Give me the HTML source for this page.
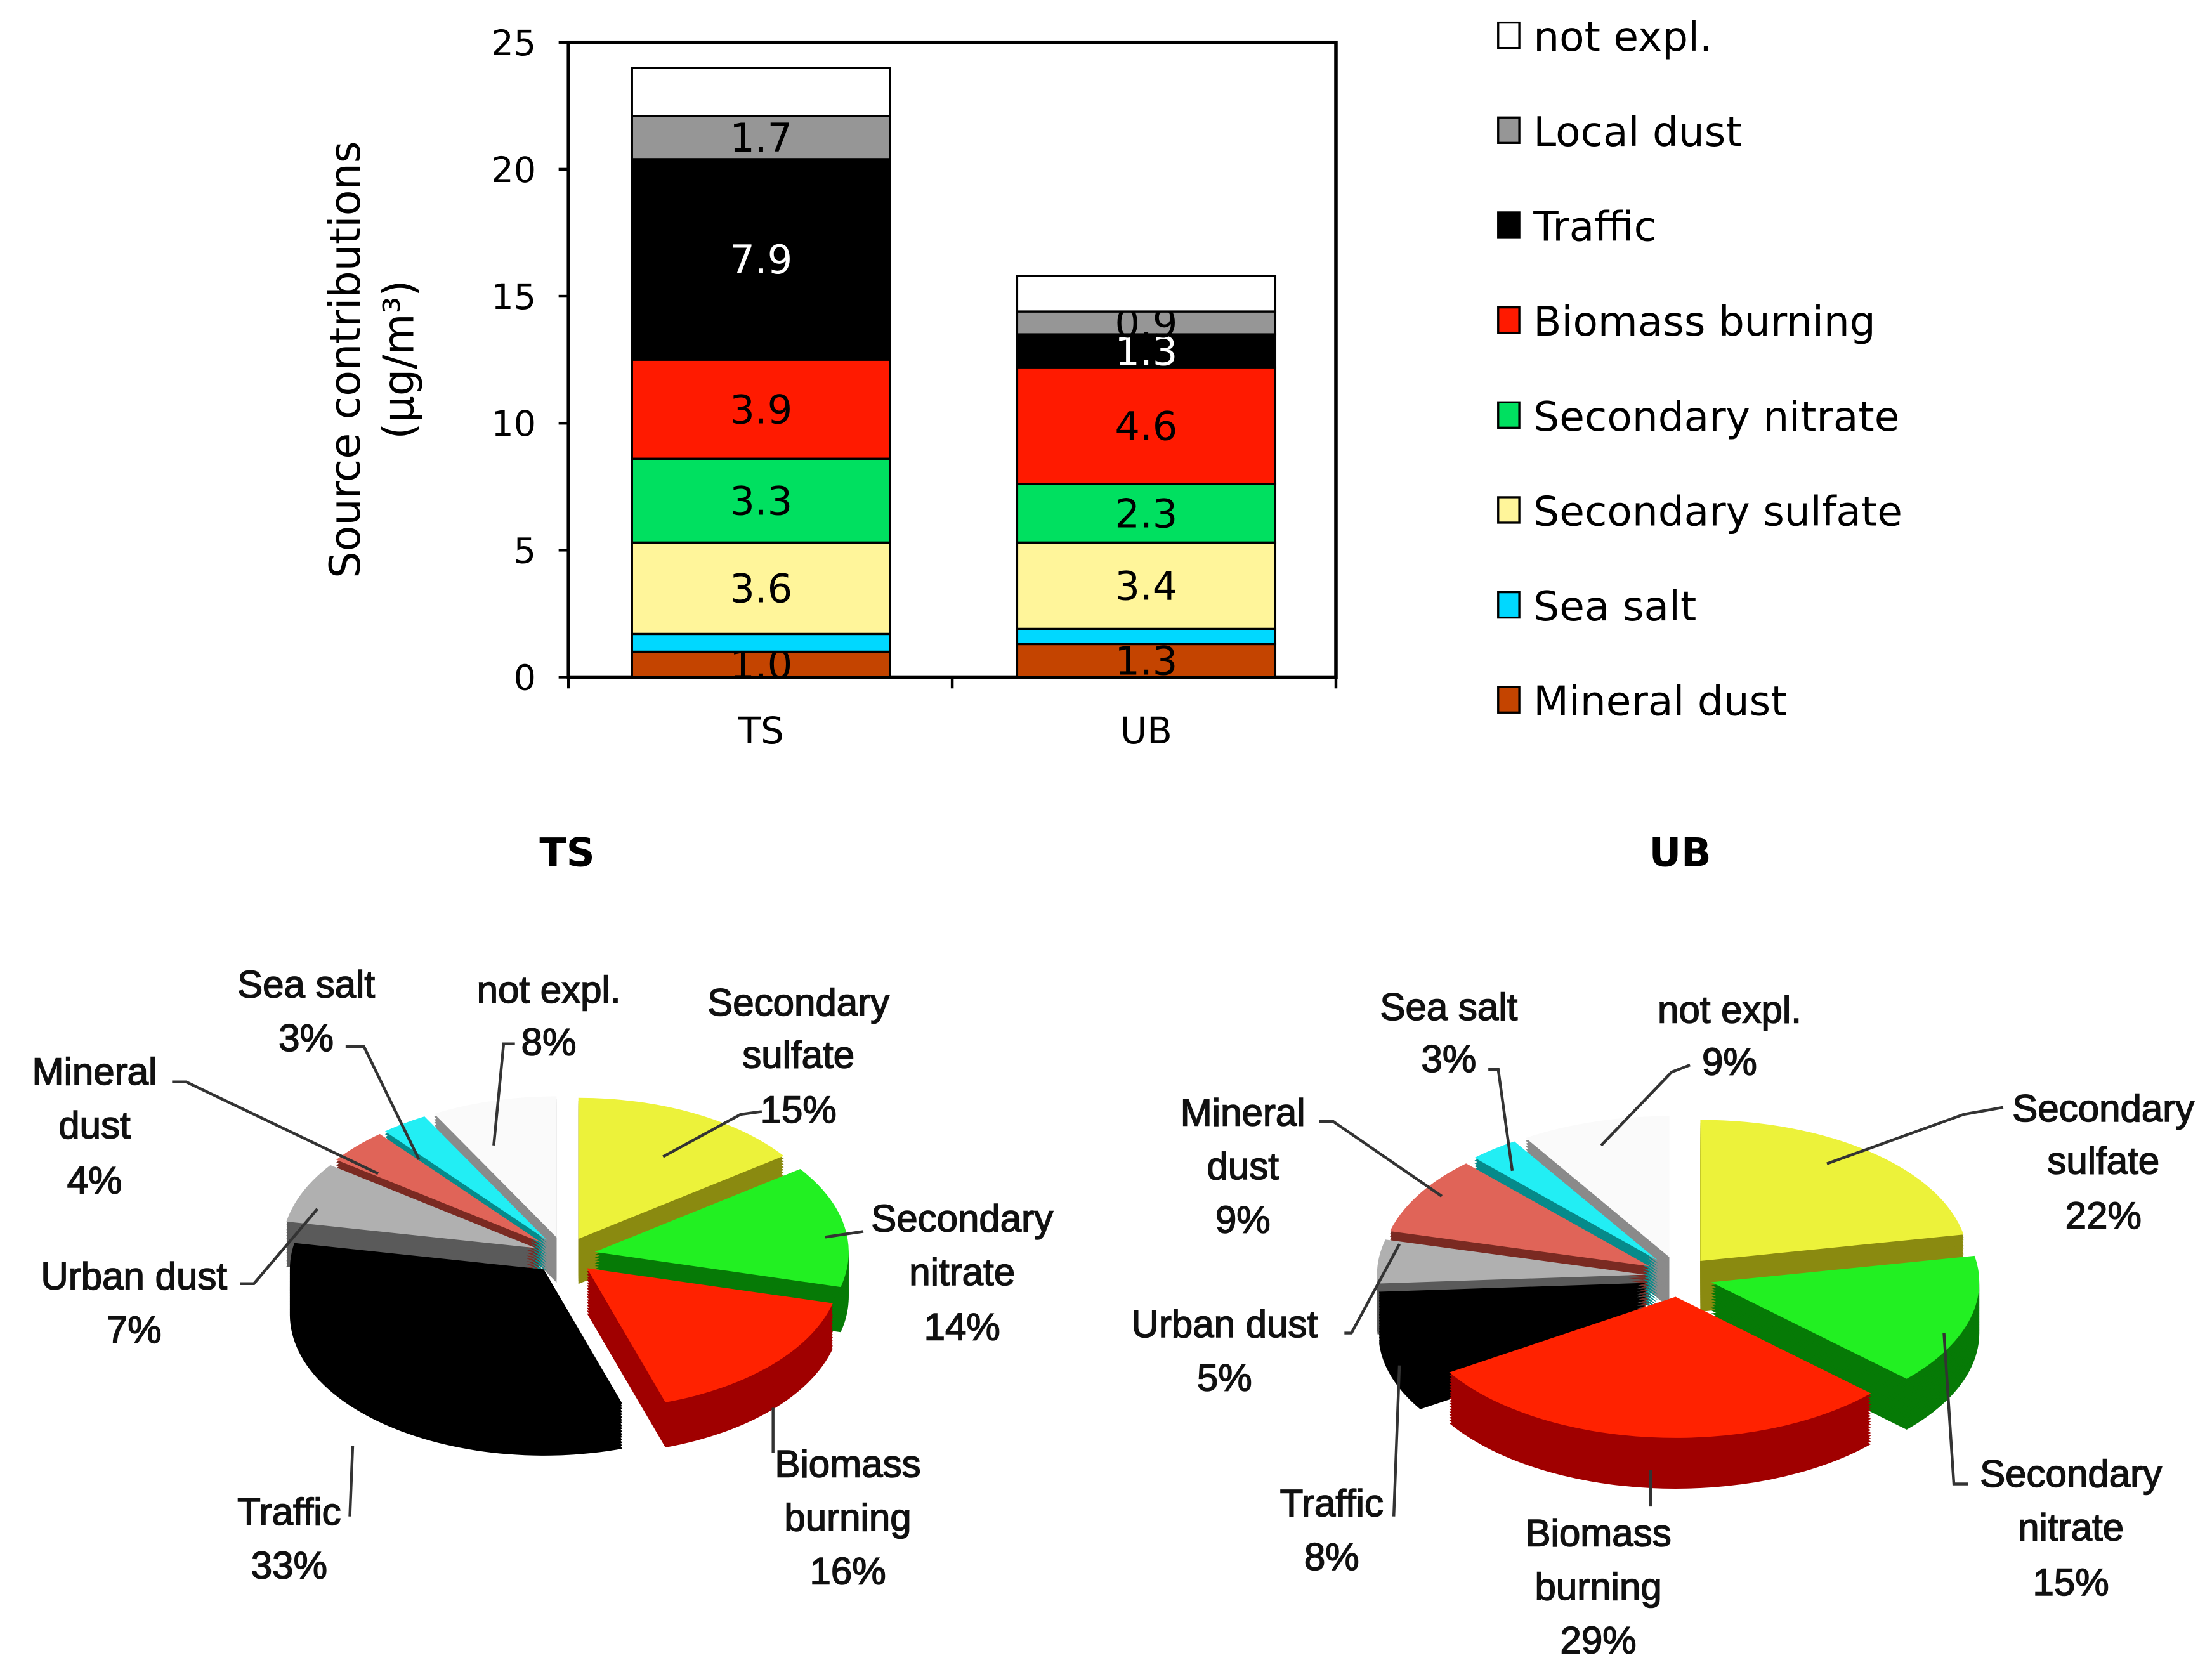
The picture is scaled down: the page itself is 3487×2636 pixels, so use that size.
<!DOCTYPE html>
<html><head><meta charset="utf-8"><style>
html,body{margin:0;padding:0;background:#fff;}
svg{display:block;}
.v{font-family:"DejaVu Sans","Liberation Sans",sans-serif;}
.c{font-family:"Liberation Sans",sans-serif;font-size:27px;fill:#111;stroke:#111;stroke-width:0.7;}
</style></head><body>
<svg id="svg" width="3487" height="2636" viewBox="0 0 1568 1185.3" xmlns="http://www.w3.org/2000/svg">
<rect x="0" y="0" width="1568" height="1186" fill="#fff"/>
<g id="bars"></g>
<g id="legend"></g>
<g id="pies"></g>
<g id="labels"></g>
</svg>
<script>
// ---- bar chart data ----
const categories = ["TS","UB"];
const sources = ["Mineral dust","Sea salt","Secondary sulfate","Secondary nitrate","Biomass burning","Traffic","Local dust","not expl."];
const tsValues = [1.0,0.7,3.6,3.3,3.9,7.9,1.7,1.9];
const ubValues = [1.3,0.6,3.4,2.3,4.6,1.3,0.9,1.4];
const tsLabels = ["1.0","","3.6","3.3","3.9","7.9","1.7",""];
const ubLabels = ["1.3","","3.4","2.3","4.6","1.3","0.9",""];
const yTicks = [0,5,10,15,20,25];
// ---- pie data ----
const pieSources = ["Secondary sulfate","Secondary nitrate","Biomass burning","Traffic","Urban dust","Mineral dust","Sea salt","not expl."];
const tsShares = [15,14,16,33,7,4,3,8];
const ubShares = [22,15,29,8,5,9,3,9];

const NS="http://www.w3.org/2000/svg";
function mk(tag,attrs,parent,text){const e=document.createElementNS(NS,tag);for(const k in attrs)e.setAttribute(k,attrs[k]);if(text!==undefined)e.textContent=text;parent.appendChild(e);return e;}

const barColors=["#c44400","#00d8ff","#fff59a","#00e060","#ff1a00","#000000","#969696","#ffffff"];
const plot={x0:403,x1:947,y0:480,y1:30};
function yScale(v){return plot.y0-(v/25)*(plot.y0-plot.y1);}
const barX=[448,721], barW=183;
const bars=document.getElementById('bars');

let frame=mk('rect',{x:plot.x0,y:plot.y1,width:plot.x1-plot.x0,height:plot.y0-plot.y1,fill:'none',stroke:'#000','stroke-width':2.5},bars);


yTicks.forEach(t=>{
  const y=yScale(t);
  let l=mk('line',{x1:plot.x0-7,x2:plot.x0,y1:y,y2:y,stroke:'#000','stroke-width':2},bars);
  
  
  let tx=mk('text',{x:380,y:y+9,'text-anchor':'end','font-size':25,class:'v'},bars,String(t));
  
  
});
[plot.x0,(plot.x0+plot.x1)/2,plot.x1].forEach(x=>{
  let l=mk('line',{x1:x,x2:x,y1:plot.y0,y2:plot.y0+8,stroke:'#000','stroke-width':2},bars);
  
  
});
const yt=mk('text',{transform:'translate(255,255) rotate(-90)','text-anchor':'middle','font-size':30,class:'v'},bars,'Source contributions');


const yt2=mk('text',{transform:'translate(293,255) rotate(-90)','text-anchor':'middle','font-size':30,class:'v'},bars,'(µg/m³)');



[tsValues,ubValues].forEach((vals,ci)=>{
  let cum=0;
  const labs=ci===0?tsLabels:ubLabels;
  vals.forEach((v,i)=>{
    const yTop=yScale(cum+v), yBot=yScale(cum);
    let r=mk('rect',{x:barX[ci],y:yTop,width:barW,height:yBot-yTop,fill:barColors[i],stroke:'#000','stroke-width':1.5},bars);
    
    
    if(labs[i]){
      let t=mk('text',{x:barX[ci]+barW/2,y:(yTop+yBot)/2+10,'text-anchor':'middle','font-size':28,class:'v',fill:i===5?'#fff':'#000'},bars,labs[i]);
      
      
    }
    cum+=v;
  });
  let xl=mk('text',{x:barX[ci]+barW/2,y:527,'text-anchor':'middle','font-size':26,class:'v'},bars,categories[ci]);
  
  
});

const legend=document.getElementById('legend');
for(let k=0;k<sources.length;k++){
  const i=sources.length-1-k;
  const y=25+k*67.3;
  let g=mk('g',{},legend);
  
  
  mk('rect',{x:1062,y:y-9,width:15,height:18,fill:barColors[i],stroke:'#000','stroke-width':1.5},g);
  mk('text',{x:1087,y:y+11,'font-size':29,class:'v'},g,sources[i]);
}

const pieTop=["#ecf23a","#22f022","#ff2200","#000000","#b0b0b0","#e06458","#22eef4","#fafafa"];
const pieSide=["#8a8a10","#067a06","#a00000","#000000","#5a5a5a","#7a2a22","#068a8a","#8a8a8a"];
const pies=document.getElementById('pies');
function drawPie(shares,cx,cy,rx,ry,depth,expl,name){
  const g=mk('g',{},pies);
  
  
  const total=shares.reduce((a,b)=>a+b,0);
  let a=0; const sl=[];
  shares.forEach((s,i)=>{const a0=a/total*2*Math.PI;a+=s;const a1=a/total*2*Math.PI;sl.push({i,a0,a1,m:(a0+a1)/2});});
  sl.sort((p,q)=>Math.cos(q.m)-Math.cos(p.m));
  sl.forEach(s=>{
    const ox=cx+expl*Math.sin(s.m), oy=cy-expl*0.6*Math.cos(s.m);
    const P=(t,dy)=>[ox+rx*Math.sin(t),oy-ry*Math.cos(t)+dy];
    const path=dy=>{const p0=P(s.a0,dy),p1=P(s.a1,dy);const large=(s.a1-s.a0)>Math.PI?1:0;
      return `M${ox},${oy+dy}L${p0[0]},${p0[1]}A${rx},${ry} 0 ${large} 1 ${p1[0]},${p1[1]}Z`;};
    const sg=mk('g',{},g);
    
    
    for(let d=depth;d>0;d-=2){mk('path',{d:path(d),fill:pieSide[s.i]},sg);}
    mk('path',{d:path(0),fill:pieTop[s.i]},sg);
  });
}
drawPie(tsShares,400,890,180,100,32,22,'pie-ts');
drawPie(ubShares,1190,905,190,100,36,24,'pie-ub');

const lab=document.getElementById('labels');
[["TS",402],["UB",1191]].forEach(([t,x])=>{
  let e=mk('text',{x:x,y:614,'text-anchor':'middle','font-size':28,'font-weight':'bold',class:'v'},lab,t);
  
  
});
const texts=[
 [217,697,"Sea salt"],[217,735,"3%"],[389,701,"not expl."],[389,738,"8%"],
 [566,710,"Secondary"],[566,747,"sulfate"],[566,786,"15%"],
 [67,759,"Mineral"],[67,797,"dust"],[67,836,"4%"],
 [682,863,"Secondary"],[682,901,"nitrate"],[682,940,"14%"],
 [95,904,"Urban dust"],[95,942,"7%"],[205,1071,"Traffic"],[205,1109,"33%"],
 [601,1037,"Biomass"],[601,1075,"burning"],[601,1113,"16%"],
 [1027,713,"Sea salt"],[1027,750,"3%"],[1226,715,"not expl."],[1226,752,"9%"],
 [1491,785,"Secondary"],[1491,822,"sulfate"],[1491,861,"22%"],
 [881,788,"Mineral"],[881,826,"dust"],[881,864,"9%"],
 [868,938,"Urban dust"],[868,976,"5%"],[944,1065,"Traffic"],[944,1103,"8%"],
 [1133,1086,"Biomass"],[1133,1124,"burning"],[1133,1162,"29%"],
 [1468,1044,"Secondary"],[1468,1082,"nitrate"],[1468,1121,"15%"]];
texts.forEach(([x,y,t])=>{
  let e=mk('text',{x:x,y:y+10,'text-anchor':'middle',class:'c'},lab,t);
  
  
});
const leaders=[
 "M245,742 L258,742 L297,822","M365,740 L357,740 L350,812","M540,788 L525,790 L470,820",
 "M122,767 L132,767 L268,832","M612,873 L585,877","M170,910 L180,910 L225,857",
 "M248,1075 L250,1025","M548,1030 L548,998",
 "M1055,758 L1062,758 L1072,830","M1198,755 L1185,760 L1135,812","M1420,785 L1392,790 L1295,825",
 "M935,795 L945,795 L1022,848","M953,945 L958,945 L992,882","M988,1075 L992,968",
 "M1170,1068 L1170,1042","M1395,1052 L1385,1052 L1378,945"];
leaders.forEach(d=>{
  let e=mk('path',{d:d,fill:'none',stroke:'#333','stroke-width':2},lab);
  
  
});
</script>
</body></html>
